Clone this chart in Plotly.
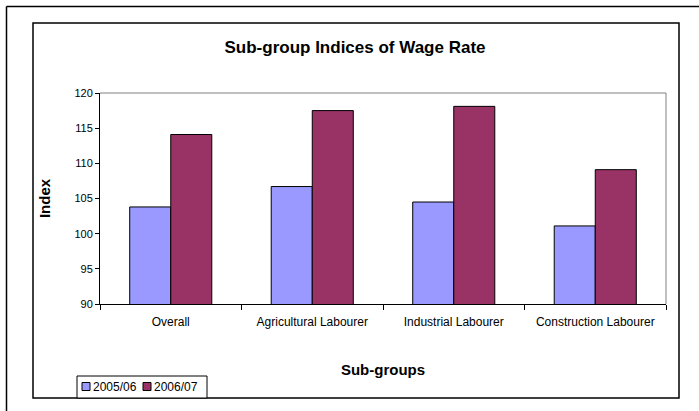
import plotly.graph_objects as go

# data
categories = ["Overall", "Agricultural Labourer", "Industrial Labourer", "Construction Labourer"]
series_names = ["2005/06", "2006/07"]
values_2005 = [103.8, 106.7, 104.5, 101.1]
values_2006 = [114.1, 117.5, 118.1, 109.1]
y_ticks = [90, 95, 100, 105, 110, 115, 120]

colors = ["#9999FF", "#993366"]
FONT = "Arial, Liberation Sans, sans-serif"

W, H = 699, 411
L, R, T, B = 100, 666, 93, 304  # plot area in px


def px_x(p):
    return (p - L) / (R - L)


def px_y(p):
    return (B - p) / (B - T)


fig = go.Figure()
for name, vals, col in zip(series_names, [values_2005, values_2006], colors):
    fig.add_trace(go.Bar(x=categories, y=vals, name=name,
                         marker=dict(color=col, line=dict(color="black", width=1))))

shapes = [
    # outer frame (cut off at right and bottom)
    dict(type="line", xref="paper", yref="paper", x0=px_x(6.5), x1=px_x(710),
         y0=px_y(6.5), y1=px_y(6.5), line=dict(color="black", width=1.5)),
    dict(type="line", xref="paper", yref="paper", x0=px_x(6.5), x1=px_x(6.5),
         y0=px_y(6.5), y1=px_y(420), line=dict(color="black", width=1.5)),
    # chart area border
    dict(type="rect", xref="paper", yref="paper", x0=px_x(33), x1=px_x(679),
         y0=px_y(23), y1=px_y(398), line=dict(color="black", width=1.5)),
    # plot area top and right edges
    dict(type="line", xref="paper", yref="paper", x0=0, x1=1, y0=1, y1=1,
         line=dict(color="#808080", width=1)),
    dict(type="line", xref="paper", yref="paper", x0=1, x1=1, y0=0, y1=1,
         line=dict(color="#808080", width=1)),
    # legend box
    dict(type="rect", xref="paper", yref="paper", x0=px_x(77), x1=px_x(207),
         y0=px_y(376), y1=px_y(398), line=dict(color="black", width=1),
         fillcolor="white"),
]

annotations = []
key_x = [82, 143]
for kx, name, col in zip(key_x, series_names, colors):
    shapes.append(dict(type="rect", xref="paper", yref="paper",
                       x0=px_x(kx), x1=px_x(kx + 8), y0=px_y(382.5), y1=px_y(390.5),
                       fillcolor=col, line=dict(color="black", width=1)))
    annotations.append(dict(x=px_x(kx + 9), y=px_y(386.5), xref="paper", yref="paper",
                            text=name, showarrow=False, xanchor="left", yanchor="middle",
                            font=dict(family=FONT, size=12, color="black")))

fig.update_layout(
    width=W, height=H,
    margin=dict(l=L, r=W - R, t=T, b=H - B),
    paper_bgcolor="white", plot_bgcolor="white",
    barmode="group", bargap=0.42, bargroupgap=0,
    showlegend=False,
    font=dict(family=FONT, size=12, color="black"),
    title=dict(text="<b>Sub-group Indices of Wage Rate</b>", x=355 / W, xanchor="center",
               y=1 - 47 / H, yanchor="middle", font=dict(family=FONT, size=17, color="black")),
    shapes=shapes,
    annotations=annotations,
)
fig.update_xaxes(showline=True, linecolor="black", linewidth=1,
                 ticks="outside", tickson="boundaries", ticklen=5, tickcolor="black",
                 tickfont=dict(size=12), ticklabelstandoff=7,
                 title=dict(text="<b>Sub-groups</b>", standoff=36,
                            font=dict(family=FONT, size=15, color="black")))
fig.update_yaxes(range=[90, 120], tickvals=y_ticks, showgrid=False, zeroline=False,
                 showline=True, linecolor="black", linewidth=1,
                 ticks="outside", ticklen=4, tickcolor="black", tickfont=dict(size=11),
                 title=dict(text="<b>Index</b>", standoff=20,
                            font=dict(family=FONT, size=15, color="black")))

# the page body has a default 8px margin; drop it so the figure sits at the window corner
fig.write_html("out.html", config={"displayModeBar": False},
               post_script="document.body.style.margin='0';")
